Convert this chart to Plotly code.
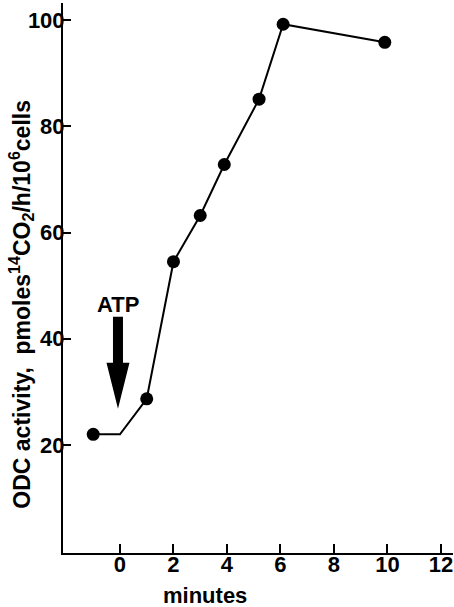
import plotly.graph_objects as go

# Data
minutes = [-1, 0, 1, 2, 3, 3.9, 5.2, 6.1, 9.9]
odc_activity = [22, 22, 28.7, 54.5, 63.2, 72.8, 85.1, 99.2, 95.8]
measured = [True, False, True, True, True, True, True, True, True]

x_ticks = [0, 2, 4, 6, 8, 10, 12]
y_ticks = [20, 40, 60, 80, 100]

atp_time = 0
atp_arrow_tip = 26.8
atp_label_y = 46.4

FONT = dict(family="Liberation Sans, Arial, sans-serif", size=22, color="black", weight="bold")
TITLE_FONT = dict(FONT, size=23)

fig = go.Figure()
fig.add_trace(go.Scatter(
    x=minutes, y=odc_activity, mode="lines+markers",
    line=dict(color="black", width=2),
    marker=dict(color="black", opacity=1, line=dict(width=0),
                size=[13 if m else 0 for m in measured]),
    showlegend=False, hoverinfo="skip",
))

# block arrow (pixel path anchored at its tip)
fig.add_shape(
    type="path", xref="x", yref="y",
    xsizemode="pixel", ysizemode="pixel",
    xanchor=atp_time, yanchor=atp_arrow_tip,
    path="M -2,0 L -13.5,46 L -7,46 L -7,92 L 3,92 L 3,46 L 9.5,46 Z",
    fillcolor="black", line=dict(width=0),
)
fig.add_annotation(x=atp_time, y=atp_label_y, xref="x", yref="y", text="ATP",
                   showarrow=False, font=FONT, xshift=-2)

# y-axis title
fig.add_annotation(
    xref="paper", yref="paper", x=-0.107, y=0.452, textangle=-90,
    text="ODC activity,  pmoles<sup>14</sup>CO<sub>2</sub>/h/10<sup>6</sup>cells",
    showarrow=False, font=TITLE_FONT, xanchor="center", yanchor="middle",
)
# x-axis title
fig.add_annotation(
    xref="paper", yref="paper", x=0.365, y=-0.078, text="minutes",
    showarrow=False, font=FONT, xanchor="center", yanchor="middle",
)

fig.update_xaxes(
    range=[-2.13, 12.45], tickvals=x_ticks, ticks="inside", ticklen=9, tickwidth=2,
    tickcolor="black", showline=True, linecolor="black", linewidth=2,
    showgrid=False, zeroline=False, tickfont=FONT, ticklabelstandoff=-9,
)
fig.update_yaxes(
    range=[-0.33, 103.2], tickvals=y_ticks, ticks="inside", ticklen=8, tickwidth=2,
    tickcolor="black", showline=True, linecolor="black", linewidth=2,
    showgrid=False, zeroline=False, tickfont=FONT, ticklabelstandoff=-8,
)
fig.update_layout(
    width=454, height=607, plot_bgcolor="white", paper_bgcolor="white",
    margin=dict(l=63, r=1, t=3, b=54, autoexpand=False),
)
fig.write_html(
    "out.html",
    config={"displayModeBar": False},
    post_script="document.body.style.margin='0';document.body.style.overflow='hidden';",
)
